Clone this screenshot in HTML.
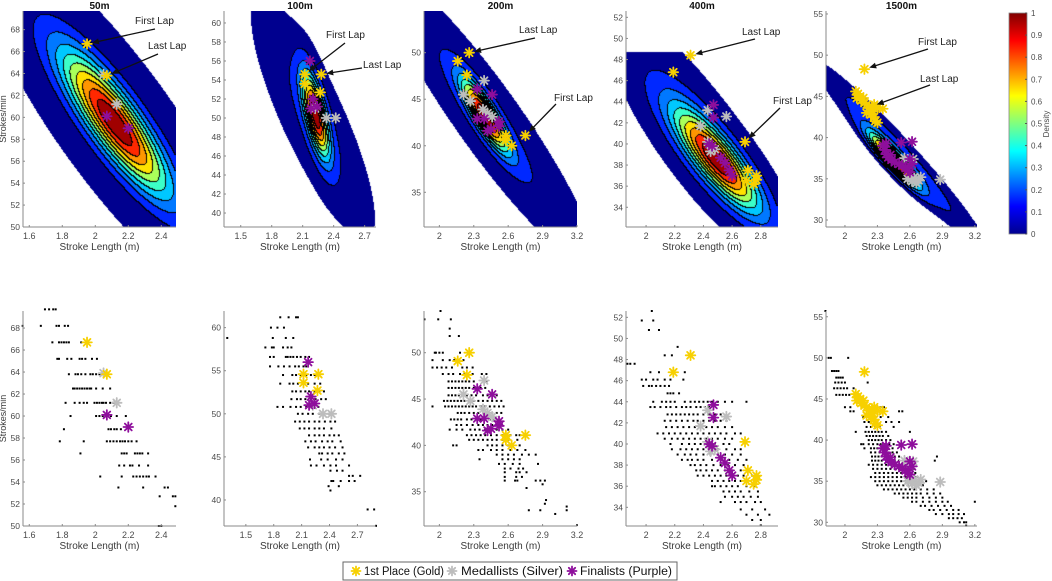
<!DOCTYPE html>
<html><head><meta charset="utf-8">
<style>
html,body{margin:0;padding:0;background:#fff;width:1052px;height:581px;overflow:hidden;}
#wrap{position:relative;width:1052px;height:581px;}
canvas{position:absolute;}
svg{position:absolute;left:0;top:0;}
text{font-family:"Liberation Sans",sans-serif;}
</style></head>
<body>
<div id="wrap">
<svg id="svg" width="1052" height="581"></svg>
</div>
<script>
// ---------- data ----------
const panelNames = ['50m','100m','200m','400m','1500m'];
const plotLeft = [23,224,424,626,826];
const plotWidth = [153,152,153,152,151];
const topXRange = [[1.562,2.489],[1.338,2.81],[1.866,3.2],[1.86,2.92],[1.825,3.22]];
const topYRange = [[50,69.7],[38.53,61.26],[31.27,54.48],[32.13,52.6],[29.15,55.36]];
const botXRange = [[1.562,2.489],[1.265,2.90],[1.866,3.2],[1.86,2.92],[1.825,3.22]];
const botYRange = [[50,69.55],[36.98,61.93],[31.3,54.5],[32.23,52.6],[29.55,55.7]];
const xTicks = [[1.6,1.8,2,2.2,2.4],[1.5,1.8,2.1,2.4,2.7],[2,2.3,2.6,2.9,3.2],[2,2.2,2.4,2.6,2.8],[2,2.3,2.6,2.9,3.2]];
const topYTicks = [[50,52,54,56,58,60,62,64,66,68],[40,42,44,46,48,50,52,54,56,58,60],[35,40,45,50],[34,36,38,40,42,44,46,48,50,52],[30,35,40,45,50,55]];
const botYTicks = [[50,52,54,56,58,60,62,64,66,68],[40,45,50,55,60],[35,40,45,50],[34,36,38,40,42,44,46,48,50,52],[30,35,40,45,50,55]];
// density mixture components: [meanX, meanY, sdX, sdY, rho, mass]
const densityComps = [
 [[2.12,59.5,0.23,4.6,-0.86,1]],
 [[2.23,50.3,0.088,3.0,-0.68,0.55],[2.2,50,0.32,6.8,-0.83,0.45]],
 [[2.4,43.2,0.136,2.6,-0.86,0.5],[2.42,43,0.413,7,-0.93,0.5]],
 [[2.5,38.4,0.204,3.3,-0.84,0.75],[2.35,41,0.3,5.5,-0.85,0.25]],
 [[2.45,37.2,0.153,2.2,-0.92,0.5],[2.5,38,0.422,6,-0.97,0.5]]
];
const densityCutoff = [0.0012,0.02,0.011,0.012,0.03];
const supportMaxY = [99,99,99,48.7,99];
const goldPts = [
 [[1.95,66.7],[2.07,63.8]],
 [[2.12,54.6],[2.28,54.6],[2.12,53.6],[2.27,52.7]],
 [[2.16,49.1],[2.26,50],[2.24,47.6],[2.58,41.1],[2.75,41.1],[2.58,40.6],[2.63,40]],
 [[2.31,48.4],[2.19,46.8],[2.69,40.2],[2.71,37.5],[2.77,37],[2.7,36.5],[2.75,36.2],[2.77,36.6]],
 [[2.18,48.3],[2.1,45.6],[2.12,45.3],[2.14,45.0],[2.11,44.8],[2.15,44.5],[2.18,44.2],[2.2,44.0],[2.22,43.6],[2.25,43.8],[2.27,44.0],[2.3,43.6],[2.35,43.5],[2.2,43.0],[2.24,42.8],[2.27,42.5],[2.28,42.0],[2.3,41.8],[2.17,44.8],[2.26,43.2]]
];
const silverPts = [
 [[2.05,63.9],[2.13,61.2]],
 [[2.33,50],[2.42,50],[2.22,51]],
 [[2.39,47],[2.21,45.5],[2.27,44.8],[2.38,43.9],[2.42,43.5],[2.46,43.1]],
 [[2.43,43.2],[2.56,42.6],[2.38,41.7],[2.45,39.3],[2.48,39.5],[2.43,40.2]],
 [[2.55,37.5],[2.63,37.4],[2.58,35],[2.62,34.7],[2.66,34.5],[2.7,35.2],[2.88,34.9],[2.64,35.2],[2.68,34.8]]
];
const purplePts = [
 [[2.07,60.1],[2.2,59]],
 [[2.17,56],[2.2,52],[2.24,51.2],[2.18,51]],
 [[2.33,46.1],[2.46,45.5],[2.33,42.9],[2.39,42.9],[2.52,42.6],[2.52,42.1],[2.45,41.8],[2.42,41.6]],
 [[2.47,43.7],[2.47,42.5],[2.44,40],[2.46,39.8],[2.52,38.7],[2.55,38.2],[2.58,37.5],[2.6,37]],
 [[2.35,39],[2.37,38.5],[2.38,38],[2.4,37.6],[2.43,37.3],[2.46,37],[2.5,36.8],[2.53,36.6],[2.56,36.3],[2.58,36],[2.6,35.8],[2.38,39.3],[2.42,37.9],[2.62,36.8],[2.6,37.4],[2.52,39.4],[2.62,39.5]]
];
// raw observations, rows of [strokeRate, [strokeLengths...]]
const scatterRows = [
 [[69.7,[1.695,1.72,1.745,1.76]],[68.2,[1.56,1.67,1.765,1.78,1.815,1.835]],[66.7,[1.74,1.78,1.795,1.81,1.825,1.84,1.915]],
  [65.2,[1.77,1.78,1.83,1.855,1.905,1.92,1.94,1.98,2.01]],[63.8,[1.84,1.88,1.895,1.915,1.94,1.97,1.985,2.005,2.025]],
  [62.5,[1.865,1.875,1.89,1.905,1.92,1.935,1.95,1.965,1.975,2.005,2.045,2.09]],[61.2,[1.82,1.875,1.905,1.93,1.95,1.995,2.01,2.025,2.04,2.05,2.065,2.09,2.11]],
  [60,[1.85,2.005,2.025,2.045,2.065,2.095,2.13,2.185]],[58.8,[1.81,2.08,2.095,2.115,2.13,2.155]],
  [57.7,[1.785,1.93,2.07,2.09,2.11,2.13,2.15,2.165,2.18,2.2,2.22,2.25]],[56.6,[1.91,2.16,2.175,2.19,2.24,2.255,2.27,2.285,2.32]],
  [55.5,[2.145,2.175,2.21,2.225,2.265,2.32]],[54.5,[2.03,2.16,2.23,2.25,2.27,2.29,2.31,2.325,2.365]],[53.5,[2.14,2.29,2.42,2.44]],
  [52.7,[2.39,2.47,2.485]],[51.8,[2.485]],[50,[2.385,2.4]]],
 [[61.2,[1.87,1.96,2.04,2.06]],[60,[1.77,1.84,1.91]],[58.8,[1.3,1.79,1.93,2.01]],[57.7,[1.71,1.78,1.8,1.9,1.95,1.99]],
  [56.6,[1.76,1.8,1.93,1.95,1.98,2.01,2.05,2.09,2.14,2.18]],[55.5,[1.76,1.85,1.91,1.97,2.03,2.07,2.12,2.15]],
  [54.5,[1.9,2.0,2.04,2.09,2.15,2.2,2.24,2.29]],[53.5,[1.87,1.97,2.01,2.06,2.12,2.17,2.24,2.3]],
  [52.6,[2.0,2.04,2.09,2.14,2.18,2.24,2.29,2.34]],[51.7,[1.99,2.05,2.09,2.14,2.2,2.25,2.31,2.36]],
  [50.8,[1.84,1.9,1.98,2.04,2.09,2.15,2.22,2.28]],[50,[2.06,2.11,2.17,2.22,2.29,2.34,2.4]],
  [49.1,[2.03,2.08,2.13,2.18,2.24,2.29,2.35,2.41,2.46]],[48.3,[2.08,2.13,2.18,2.24,2.29,2.34,2.42]],
  [47.5,[2.18,2.24,2.29,2.34,2.4,2.45,2.5]],[46.8,[2.14,2.2,2.25,2.32,2.38,2.43,2.52]],[46.1,[2.17,2.24,2.29,2.34,2.4,2.46,2.54]],
  [45.4,[2.29,2.32,2.38,2.43,2.5,2.56]],[44.7,[2.19,2.31,2.38,2.47,2.54]],[44,[2.2,2.26,2.34,2.41,2.47,2.61]],
  [43.4,[2.41,2.48,2.54]],[42.8,[2.61,2.65,2.73]],[42.2,[2.42,2.44,2.52,2.61,2.67]],[41.6,[2.39,2.5]],[41.1,[2.41]],[38.9,[2.81,2.88]],[37,[2.9]]],
 [[54.5,[2.01]],[53.6,[1.87,1.99,2.1]],[52.6,[2.09]],[51.8,[2.09,2.17]],[50,[1.96,1.97,2.0,2.03,2.18]],[49.2,[1.94,2.03,2.09,2.13,2.17,2.21]],
  [48.4,[1.94,1.98,2.02,2.06,2.11,2.2,2.24,2.29]],[47.7,[2.03,2.08,2.12,2.18,2.22,2.29,2.37,2.41]],
  [46.9,[2.08,2.11,2.14,2.17,2.2,2.23,2.26,2.3,2.41]],[46.2,[2.08,2.11,2.14,2.17,2.2,2.23,2.26,2.3,2.36,2.4]],
  [45.4,[2.08,2.11,2.14,2.17,2.2,2.24,2.28,2.32,2.38,2.42,2.46,2.5]],[44.8,[2.04,2.07,2.1,2.13,2.16,2.19,2.22,2.26,2.3,2.34,2.38,2.42,2.46,2.5,2.54]],
  [44.2,[1.94,2.05,2.08,2.11,2.14,2.17,2.2,2.23,2.26,2.29,2.32,2.36,2.4,2.44,2.48,2.52,2.56]],[43.5,[2.16,2.19,2.22,2.26,2.3,2.34,2.38,2.42,2.46,2.5,2.54]],
  [42.8,[2.1,2.13,2.16,2.19,2.24,2.28,2.32,2.36,2.4,2.44,2.48]],[42.2,[2.15,2.19,2.24,2.29,2.34,2.38,2.42,2.46,2.5,2.54]],
  [41.7,[2.09,2.15,2.2,2.27,2.31,2.35,2.4,2.45,2.5,2.55,2.6]],[41.1,[2.24,2.28,2.32,2.36,2.4,2.45,2.5,2.55,2.62,2.67,2.7]],
  [40.6,[2.26,2.3,2.34,2.38,2.42,2.46,2.5,2.55,2.6,2.68]],[40,[2.12,2.15,2.42,2.46,2.5,2.55,2.6,2.64,2.7]],
  [39.5,[2.34,2.38,2.45,2.5,2.55,2.62,2.68,2.75]],[39,[2.5,2.55,2.6,2.65,2.72,2.78,2.84]],[38.5,[2.35,2.55,2.6,2.65,2.7]],
  [38,[2.52,2.57,2.64,2.7,2.86]],[37.5,[2.57,2.62,2.69,2.73]],[37.1,[2.57,2.67,2.7,2.76]],[36.6,[2.57,2.67,2.72]],
  [36.2,[2.57,2.66,2.68,2.84,2.88,2.92]],[35.8,[2.9]],[35.4,[2.76]],[34.1,[2.93]],[33.7,[2.92]],[33.4,[3.11]],[33,[2.78,2.88,3.11]],[32.6,[3.01]],[31.4,[3.2]]],
 [[52.6,[2.04]],[51.7,[1.97,2.05]],[50.8,[2.02,2.09]],[49.2,[2.22]],[48.4,[2.13,2.18]],[47.6,[1.87,1.89,1.92]],[46.8,[2.03,2.09,2.27]],
  [46.1,[1.97,2.0,2.05,2.08,2.13,2.17,2.26]],[45.5,[1.98,2.02,2.04,2.07,2.1,2.13,2.16]],[44.8,[2.15,2.17,2.19,2.23]],
  [44,[2.05,2.11,2.14,2.17,2.2,2.27,2.31,2.34,2.37,2.4,2.43,2.46,2.5,2.55,2.6,2.7]],[43.5,[2.03,2.06,2.1,2.14,2.17,2.21,2.25,2.28,2.31,2.35,2.38,2.41,2.44]],
  [42.8,[2.15,2.18,2.21,2.24,2.27,2.3,2.33,2.36,2.4,2.44,2.48,2.52]],[42.2,[2.13,2.17,2.21,2.25,2.29,2.33,2.36,2.4,2.44,2.48,2.52,2.56]],
  [41.6,[2.14,2.18,2.22,2.26,2.3,2.34,2.38,2.42,2.46,2.5,2.55,2.6]],[41,[2.08,2.12,2.16,2.2,2.24,2.28,2.32,2.36,2.4,2.44,2.48,2.52,2.56,2.62,2.66]],
  [40.5,[2.13,2.18,2.22,2.26,2.3,2.34,2.38,2.42,2.46,2.5,2.55,2.6]],[40,[2.17,2.25,2.3,2.34,2.38,2.42,2.48,2.54,2.58]],
  [39.5,[2.18,2.24,2.28,2.32,2.36,2.4,2.45,2.5,2.56,2.62,2.66]],[39,[2.22,2.27,2.31,2.35,2.4,2.45,2.5,2.55,2.6,2.66]],
  [38.5,[2.25,2.29,2.32,2.36,2.4,2.46,2.52,2.58,2.64,2.7]],[38,[2.31,2.34,2.38,2.42,2.47,2.52,2.57,2.62,2.68]],
  [37.5,[2.35,2.38,2.42,2.46,2.5,2.55,2.6,2.66,2.72]],[37,[2.36,2.4,2.44,2.48,2.52,2.56,2.6,2.64,2.68,2.74]],
  [36.5,[2.46,2.5,2.54,2.58,2.62,2.66,2.7,2.76]],[36,[2.46,2.48,2.52,2.56,2.6,2.64,2.7,2.76]],
  [35.5,[2.54,2.58,2.62,2.66,2.72,2.78]],[35,[2.55,2.6,2.64,2.68,2.73,2.78]],[34.5,[2.52,2.62,2.66,2.7,2.76,2.8]],
  [33.8,[2.66,2.74,2.83]],[33.3,[2.7,2.78,2.86]],[32.8,[2.74,2.8]],[32.3,[2.8]]],
 [[55.7,[1.82]],[50,[1.85,1.87,2.03]],[48.4,[1.88,1.9,1.92,1.94]],[47.6,[1.92,1.94,1.96,1.98]],[47,[1.91,1.94,1.97,2.0,2.21]],
  [46.3,[1.9,1.93,1.96,1.99,2.02,2.08]],[45.5,[1.92,1.95,1.98,2.01,2.04]],[44,[2.0,2.05,2.33,2.36]],[43.5,[2.05,2.08,2.5,2.53]],
  [42.8,[2.17,2.33,2.4]],[42.2,[2.18,2.22,2.3,2.38,2.43,2.5]],[41.6,[2.2,2.24,2.28,2.32,2.45]],
  [41,[2.1,2.19,2.22,2.25,2.28,2.31,2.34,2.38,2.6]],[40.5,[2.2,2.23,2.26,2.29,2.32,2.35,2.4]],[40,[2.22,2.25,2.28,2.31,2.34,2.38,2.42]],
  [39.5,[2.15,2.17,2.22,2.26,2.3,2.33,2.37,2.41,2.45]],[39,[2.18,2.24,2.27,2.3,2.33,2.36,2.4,2.44]],[38.5,[2.24,2.28,2.32,2.36,2.4,2.44,2.48]],
  [38,[2.25,2.28,2.31,2.34,2.38,2.42,2.46,2.5,2.85]],[37.5,[2.25,2.28,2.31,2.34,2.38,2.42,2.46,2.5,2.55,2.83]],
  [37,[2.22,2.26,2.3,2.34,2.38,2.42,2.46,2.5,2.55,2.6]],[36.5,[2.26,2.3,2.34,2.38,2.42,2.46,2.5,2.54,2.58,2.64]],
  [36,[2.28,2.32,2.36,2.4,2.44,2.48,2.52,2.56,2.6,2.65]],[35.5,[2.24,2.28,2.32,2.36,2.4,2.44,2.48,2.52,2.56,2.6,2.66]],
  [35,[2.28,2.32,2.36,2.4,2.44,2.48,2.52,2.56,2.6,2.64,2.7,2.75]],[34.5,[2.3,2.34,2.38,2.42,2.46,2.5,2.54,2.58,2.62,2.68,2.72]],
  [34,[2.36,2.4,2.44,2.48,2.52,2.56,2.6,2.64,2.7,2.76,2.82]],[33.5,[2.46,2.5,2.54,2.58,2.62,2.66,2.7,2.76,2.82,2.88]],
  [33,[2.54,2.58,2.62,2.66,2.72,2.78,2.84,2.9]],[32.5,[2.62,2.66,2.72,2.78,2.84,2.9,2.95,3.2]],[32,[2.7,2.74,2.8,2.86,2.92,2.98]],
  [31.5,[2.78,2.82,2.88,2.94,3.0,3.05]],[31,[2.84,2.9,2.96,3.0,3.05,3.1]],[30.5,[2.96,3.0,3.04,3.08]],[30,[3.06,3.1,3.12]],[29.6,[3.12]]]
];
// annotations: [label, textX(px), textY(px), arrowStartX, arrowStartY, targetX(data), targetY(data)]
const annotations = [
 [['First Lap',135,24,155,29,1.95,66.7],['Last Lap',148,49,158,54,2.07,63.8]],
 [['First Lap',326,38,345,43,2.12,54.6],['Last Lap',363,68,362,68,2.28,54.6]],
 [['Last Lap',519,33,535,38,2.26,50],['First Lap',554,101,556,104,2.75,41.1]],
 [['Last Lap',742,35,755,39,2.31,48.4],['First Lap',773,104,780,108,2.69,40.2]],
 [['First Lap',918,45,928,49,2.18,48.3],['Last Lap',920,82,930,85,2.25,43.8]]
];
const colorbarTicks = [0,0.1,0.2,0.3,0.4,0.5,0.6,0.7,0.8,0.9,1];
const bandColors = [[0,0,143],[0,40,255],[0,120,255],[0,200,255],[60,255,200],[170,255,90],[255,225,0],[255,150,0],[255,40,0],[160,0,0]];

// ---------- rendering ----------
const NS='http://www.w3.org/2000/svg';
const svg=document.getElementById('svg');
function mk(tag,attrs,parent){const e=document.createElementNS(NS,tag);for(const k in attrs)e.setAttribute(k,attrs[k]);(parent||svg).appendChild(e);return e;}
const TOP=[11,227], BOT=[311,526];
function scaleX(i,range,v){return plotLeft[i]+(v-range[0])/(range[1]-range[0])*plotWidth[i];}
function scaleY(rows,range,v){return rows[1]-(v-range[0])/(range[1]-range[0])*(rows[1]-rows[0]);}
function pdf(c,x,y){const u=(x-c[0])/c[2],v=(y-c[1])/c[3],r=c[4];const q=(u*u+v*v-2*r*u*v)/(1-r*r);return c[5]/(c[2]*c[3]*Math.sqrt(1-r*r))*Math.exp(-q/2);}

function drawDensity(i){
  const W=plotWidth[i],H=TOP[1]-TOP[0];
  const cv=document.createElement('canvas');cv.width=W;cv.height=H;
  cv.style.left=plotLeft[i]+'px';cv.style.top=TOP[0]+'px';
  
  
  document.getElementById('wrap').insertBefore(cv,svg);
  const xr=topXRange[i],yr=topYRange[i];
  const d=new Float32Array(W*H);let mx=0;
  for(let py=0;py<H;py++)for(let px=0;px<W;px++){
    const x=xr[0]+(px+0.5)/W*(xr[1]-xr[0]);const y=yr[1]-(py+0.5)/H*(yr[1]-yr[0]);
    let s=0;for(const c of densityComps[i])s+=pdf(c,x,y);
    if(y>supportMaxY[i])s=-s;
    d[py*W+px]=s;if(s>mx)mx=s;}
  const lev=new Int8Array(W*H);
  for(let k=0;k<W*H;k++){const v=d[k]/mx;lev[k]=v<densityCutoff[i]?-1:Math.min(9,Math.floor(v*10));}
  const ctx=cv.getContext('2d');const img=ctx.createImageData(W,H);
  for(let py=0;py<H;py++)for(let px=0;px<W;px++){
    const k=py*W+px,l=lev[k],o=k*4;
    if(l<0){img.data[o+3]=0;continue;}
    let edge=false;
    if(px<W-1&&lev[k+1]>=0&&lev[k+1]!==l)edge=true;
    if(py<H-1&&lev[k+W]>=0&&lev[k+W]!==l)edge=true;
    const c=edge?[0,0,0]:bandColors[l];
    img.data[o]=c[0];img.data[o+1]=c[1];img.data[o+2]=c[2];img.data[o+3]=255;}
  ctx.putImageData(img,0,0);
}

function star(x,y,color,r,name){
  const g=mk('g',{stroke:color,'stroke-width':1.8,'stroke-linecap':'round'});
  
  
  const a=r*0.7071;
  mk('line',{x1:x-r,y1:y,x2:x+r,y2:y},g);mk('line',{x1:x,y1:y-r,x2:x,y2:y+r},g);
  mk('line',{x1:x-a,y1:y-a,x2:x+a,y2:y+a},g);mk('line',{x1:x-a,y1:y+a,x2:x+a,y2:y-a},g);
  return g;
}

function drawAxes(i,rows,xr,yr,yt,isTop){
  const L=plotLeft[i],R=L+plotWidth[i];
  const ax=mk('g',{});
  
  
  mk('line',{x1:L,y1:rows[0],x2:L,y2:rows[1],stroke:'#8a8a8a','stroke-width':1},ax);
  mk('line',{x1:L,y1:rows[1],x2:R,y2:rows[1],stroke:'#8a8a8a','stroke-width':1},ax);
  for(const t of xTicks[i]){const x=scaleX(i,xr,t);
    mk('line',{x1:x,y1:rows[1],x2:x,y2:rows[1]-2,stroke:'#8a8a8a'},ax);
    const tx=mk('text',{x:x,y:rows[1]+12,'font-size':9,fill:'#4a4a4a','text-anchor':'middle'},ax);tx.textContent=String(t);
    
    }
  for(const t of yt){const y=scaleY(rows,yr,t);
    mk('line',{x1:L,y1:y,x2:L+2,y2:y,stroke:'#8a8a8a'},ax);
    const tx=mk('text',{x:L-3,y:y+3,'font-size':8.5,fill:'#4a4a4a','text-anchor':'end'},ax);tx.textContent=String(t);
    
    }
  const xl=mk('text',{x:(L+R)/2,y:rows[1]+23,'font-size':10,fill:'#3a3a3a','text-anchor':'middle'},ax);xl.textContent='Stroke Length (m)';
  
  
  if(i===0){const cy=(rows[0]+rows[1])/2;
    const yl=mk('text',{x:6,y:cy,'font-size':9,fill:'#3a3a3a','text-anchor':'middle',transform:'rotate(-90 6 '+cy+')'},ax);yl.textContent='Strokes/min';
    
    }
}

function drawMarkers(i,rows,xr,yr,prefix){
  const sets=[[silverPts[i],'#bdbdbd','silver'],[purplePts[i],'#8e0f9c','purple'],[goldPts[i],'#f7d000','gold']];
  for(const [pts,col,nm] of sets)for(const p of pts){
    star(scaleX(i,xr,p[0]),scaleY(rows,yr,p[1]),col,4.8,prefix+'-'+nm+'-marker');}
}

for(let i=0;i<5;i++){
  drawDensity(i);
  drawAxes(i,TOP,topXRange[i],topYRange[i],topYTicks[i],true);
  drawMarkers(i,TOP,topXRange[i],topYRange[i],'top');
  const title=mk('text',{x:plotLeft[i]+plotWidth[i]/2,y:9,'font-size':10,'font-weight':'bold',fill:'#111','text-anchor':'middle'});
  title.textContent=panelNames[i];
  
  
  for(const a of annotations[i]){
    const g=mk('g',{});
    
    
    const t=mk('text',{x:a[1],y:a[2],'font-size':10,fill:'#222'},g);t.textContent=a[0];
    const ex=scaleX(i,topXRange[i],a[5]),ey=scaleY(TOP,topYRange[i],a[6]);
    const dx=ex-a[3],dy=ey-a[4],len=Math.hypot(dx,dy),ux=dx/len,uy=dy/len;
    const tx=ex-ux*5,ty=ey-uy*5;
    mk('line',{x1:a[3],y1:a[4],x2:tx-ux*4,y2:ty-uy*4,stroke:'#111','stroke-width':1.3},g);
    mk('polygon',{points:[tx,ty,tx-ux*7-uy*3,ty-uy*7+ux*3,tx-ux*7+uy*3,ty-uy*7-ux*3].join(','),fill:'#111'},g);
  }
  const dots=mk('g',{fill:'#000'});
  
  
  for(const row of scatterRows[i])for(const x of row[1]){
    mk('rect',{x:scaleX(i,botXRange[i],x)-1,y:scaleY(BOT,botYRange[i],row[0])-1,width:2,height:2},dots);}
  drawAxes(i,BOT,botXRange[i],botYRange[i],botYTicks[i],false);
  drawMarkers(i,BOT,botXRange[i],botYRange[i],'bottom');
}

// colorbar
const cb=mk('g',{});


const defs=mk('defs',{},cb);
const lg=mk('linearGradient',{id:'jet',x1:0,y1:1,x2:0,y2:0},defs);
[['0','#00008f'],['0.125','#0000ff'],['0.375','#00ffff'],['0.625','#ffff00'],['0.875','#ff0000'],['1','#800000']].forEach(s=>mk('stop',{offset:s[0],'stop-color':s[1]},lg));
const cbTop=13,cbBot=234,cbL=1009,cbR=1027;
mk('rect',{x:cbL,y:cbTop,width:cbR-cbL,height:cbBot-cbTop,fill:'url(#jet)',stroke:'#888','stroke-width':0.8},cb);
for(const t of colorbarTicks){const y=cbBot-t*(cbBot-cbTop);
  mk('line',{x1:cbR-2,y1:y,x2:cbR,y2:y,stroke:'#555'},cb);
  const tx=mk('text',{x:cbR+4,y:y+3,'font-size':8,fill:'#4a4a4a'},cb);tx.textContent=String(t);
  
  }
const dl=mk('text',{x:1049,y:124,'font-size':8,fill:'#4a4a4a','text-anchor':'middle',transform:'rotate(-90 1049 124)'},cb);dl.textContent='Density';



// legend
const leg=mk('g',{});


mk('rect',{x:343,y:562,width:334,height:18,fill:'#fff',stroke:'#666','stroke-width':1},leg);
const legItems=[['1st Place (Gold)','#f7d000',356,364,80],['Medallists (Silver)','#bdbdbd',452,461,102],['Finalists (Purple)','#8e0f9c',572,580,92]];
for(const it of legItems){
  const g=mk('g',{},leg);
  
  
  g.appendChild(star(it[2],571,it[1],4.5,'legend-marker'));
  const t=mk('text',{x:it[3],y:575,'font-size':11.5,fill:'#111',textLength:it[4],lengthAdjust:'spacingAndGlyphs'},g);t.textContent=it[0];
}
</script>
</body></html>
